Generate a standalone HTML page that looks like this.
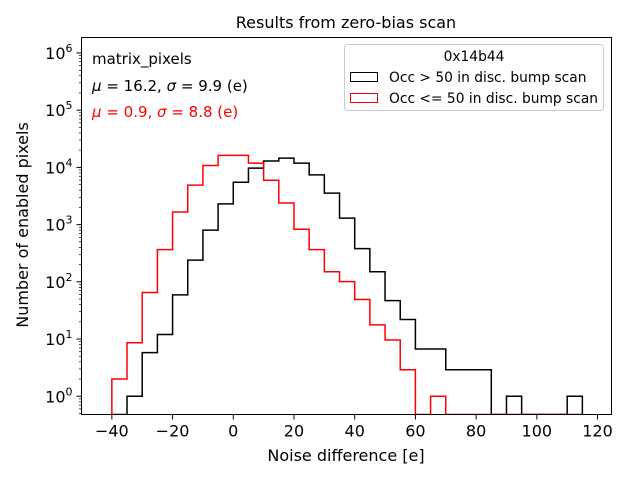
<!DOCTYPE html>
<html><head><meta charset="utf-8"><style>
body{margin:0;background:#fff}
svg text{font-family:"DejaVu Sans","Liberation Sans",sans-serif}
</style></head><body>
<svg width="640" height="480" xmlns="http://www.w3.org/2000/svg">
<rect width="640" height="480" fill="#fff"/>
<g id="plot"></g>
<text x="346" y="28" font-size="16" text-anchor="middle">Results from zero-bias scan</text>
<text x="346" y="461" font-size="16" text-anchor="middle">Noise difference [e]</text>
<text transform="translate(28,225) rotate(-90)" font-size="16" text-anchor="middle">Number of enabled pixels</text>
<text x="92" y="64" font-size="15">matrix_pixels</text>
<text x="92" y="91" font-size="15"><tspan font-style="italic">μ</tspan> = 16.2, <tspan font-style="italic">σ</tspan> = 9.9 (e)</text>
<text x="92" y="117" font-size="15" fill="#ff0000"><tspan font-style="italic">μ</tspan> = 0.9, <tspan font-style="italic">σ</tspan> = 8.8 (e)</text>
<g>
<rect x="344.5" y="44.5" width="259" height="66" rx="3" fill="#fff" fill-opacity="0.8" stroke="#ccc"/>
<text x="474" y="61" font-size="13.8" text-anchor="middle">0x14b44</text>
<rect x="350.5" y="72.5" width="27" height="9" fill="none" stroke="#000"/>
<text x="389" y="82" font-size="13.8">Occ &gt; 50 in disc. bump scan</text>
<rect x="350.5" y="93.5" width="27" height="9" fill="none" stroke="#ff0000"/>
<text x="389" y="103" font-size="13.8">Occ &lt;= 50 in disc. bump scan</text>
</g>
</svg>
<script>
const binStarts=[-40,-35,-30,-25,-20,-15,-10,-5,0,5,10,15,20,25,30,35,40,45,50,55,60,65,70,75,80,85,90,95,100,105,110];
const blackCounts=[0,1,5.8,12,59,240,800,2300,5500,9700,12900,14500,11900,7400,3550,1300,380,150,47,22,6.7,6.7,2.9,2.9,2.9,0,1,0,0,0,1];
const redCounts=[2,8.6,65,365,1660,4900,10800,16200,16200,11900,5960,2380,830,365,150,101,49,17.7,9.6,2.9,0,1,0,0,0,0,0,0,0,0,0];
const xTicks=[-40,-20,0,20,40,60,80,100,120];
const yTicks=[0,1,2,3,4,5,6];
const L=81.5,R=611.5,T=37.5,B=414.5;
const xMin=-50,xMax=124.6;
const yMinLog=Math.log10(0.48),yMaxLog=6.27;
function X(v){return L+(v-xMin)/(xMax-xMin)*(R-L);}
function Y(v){if(v<=0)return B;return B-(Math.log10(v)-yMinLog)/(yMaxLog-yMinLog)*(B-T);}
const NS="http://www.w3.org/2000/svg";
const g=document.getElementById('plot');
function mk(t,a){const e=document.createElementNS(NS,t);for(const k in a)e.setAttribute(k,a[k]);g.appendChild(e);return e;}
const defs=mk('defs',{});const cp=document.createElementNS(NS,'clipPath');cp.setAttribute('id','c');const cr=document.createElementNS(NS,'rect');
cr.setAttribute('x',L);cr.setAttribute('y',T);cr.setAttribute('width',R-L);cr.setAttribute('height',B-T);cp.appendChild(cr);defs.appendChild(cp);
function stepPath(counts){
  let d='M'+X(binStarts[0])+','+B;
  for(let i=0;i<counts.length;i++){const y=Y(counts[i]);d+=' L'+X(binStarts[i])+','+y+' L'+X(binStarts[i]+5)+','+y;}
  d+=' L'+X(binStarts[counts.length-1]+5)+','+B;return d;}
const pb=mk('path',{d:stepPath(blackCounts),fill:'none',stroke:'#000','stroke-width':1.5,'clip-path':'url(#c)'});


const pr=mk('path',{d:stepPath(redCounts),fill:'none',stroke:'#ff0000','stroke-width':1.5,'clip-path':'url(#c)'});


const fr=mk('rect',{x:L,y:T,width:R-L,height:B-T,fill:'none',stroke:'#000','stroke-width':1});


xTicks.forEach(v=>{const x=X(v);mk('line',{x1:x,x2:x,y1:B,y2:B+5,stroke:'#000'});
 const t=mk('text',{x:x,y:B+22,'font-size':16,'text-anchor':'middle'});t.textContent=(v<0?'\u2212'+(-v):v);
 
 });
yTicks.forEach(p=>{const y=Y(Math.pow(10,p));mk('line',{x1:L-5,x2:L,y1:y,y2:y,stroke:'#000'});
 for(let m=2;m<10;m++){const v=m*Math.pow(10,p-1);const yy=Y(v);if(yy>=T&&yy<=B)mk('line',{x1:L-2.5,x2:L,y1:yy,y2:yy,stroke:'#000','stroke-width':0.7});}
 const t=mk('text',{x:L-9,y:y+6,'font-size':16,'text-anchor':'end'});t.innerHTML='10<tspan dy="-7" font-size="11">'+p+'</tspan>';
 
 });
for(let m=2;m<10;m++){const yy=Y(m*1e6);if(yy>=T)mk('line',{x1:L-2.5,x2:L,y1:yy,y2:yy,stroke:'#000','stroke-width':0.7});}
</script>
</body></html>
